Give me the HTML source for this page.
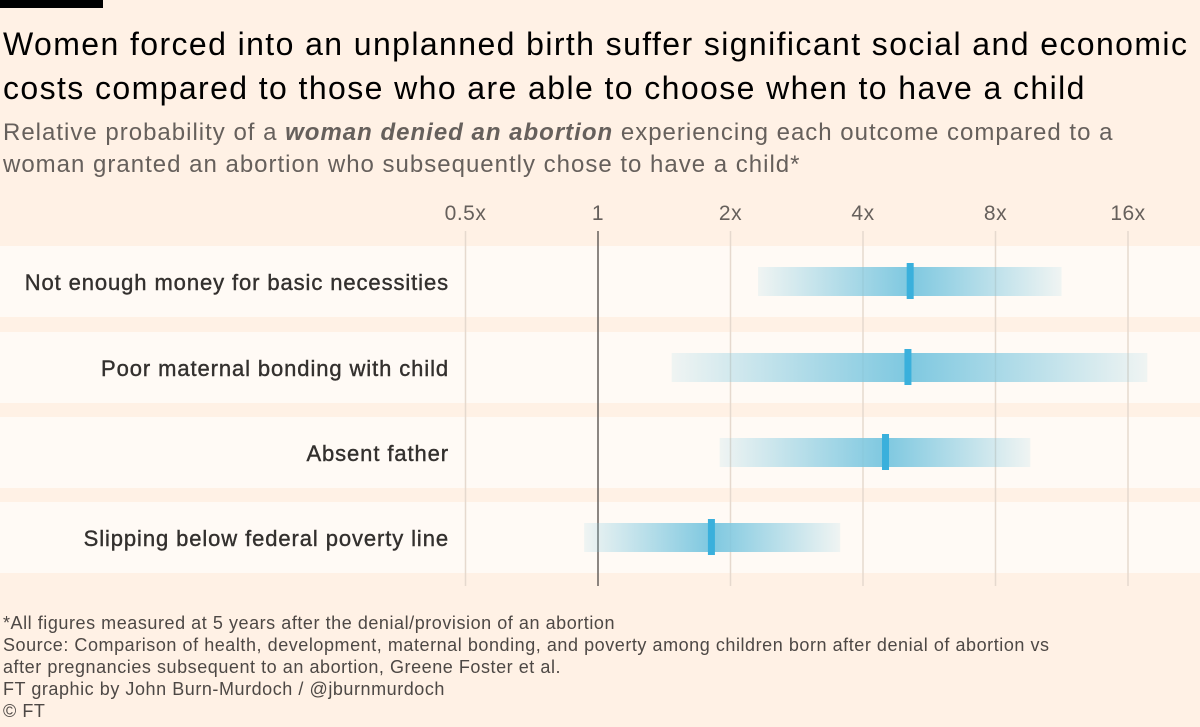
<!DOCTYPE html>
<html><head><meta charset="utf-8"><style>
body{margin:0;width:1200px;height:727px;background:#fff1e5;font-family:"Liberation Sans",sans-serif;overflow:hidden;position:relative}
.t{position:absolute;white-space:nowrap}
</style></head><body>
<div style="position:absolute;left:0;top:0;width:103px;height:8px;background:#000"></div>
<div class="t" style="left:3px;top:22px;font-size:32px;line-height:44px;color:#000;letter-spacing:1.4px">Women forced into an unplanned birth suffer significant social and economic<br>costs compared to those who are able to choose when to have a child</div>
<div class="t" style="left:3px;top:117px;font-size:24px;line-height:32px;color:#66605c;letter-spacing:1px">Relative probability of a <b><i>woman denied an abortion</i></b> experiencing each outcome compared to a<br>woman granted an abortion who subsequently chose to have a child*</div>
<svg id="c" width="1200" height="727" style="position:absolute;left:0;top:0"></svg>
<div class="t" style="left:3px;top:612px;font-size:18px;line-height:22px;color:#4d4845;letter-spacing:0.55px">*All figures measured at 5 years after the denial/provision of an abortion<br>Source: Comparison of health, development, maternal bonding, and poverty among children born after denial of abortion vs<br>after pregnancies subsequent to an abortion, Greene Foster et al.<br>FT graphic by John Burn-Murdoch / @jburnmurdoch<br>© FT</div>
<script>
const categories=["Not enough money for basic necessities","Poor maternal bonding with child","Absent father","Slipping below federal poverty line"];
const lowValues=[2.31,1.47,1.89,0.93];
const highValues=[11.3,17.7,9.6,3.55];
const pointValues=[5.12,5.06,4.5,1.81];
const tickValues=[0.5,1,2,4,8,16];
const tickLabels=["0.5x","1","2x","4x","8x","16x"];
const svg=document.getElementById('c');const NS='http://www.w3.org/2000/svg';
function x(v){return 598+132.5*Math.log2(v);}
const rowTop=[246,332,417,502],rowH=71;
function mk(t,a,p){const e=document.createElementNS(NS,t);for(const k in a)e.setAttribute(k,a[k]);(p||svg).appendChild(e);return e;}
const defs=mk('defs',{});
categories.forEach((c,i)=>{
  const b=mk('rect',{x:0,y:rowTop[i],width:1200,height:rowH,fill:'#fffaf5'});
  
  
});
tickValues.forEach((v,i)=>{
  const l=mk('line',{x1:x(v),x2:x(v),y1:231,y2:586,stroke:v===1?'#66605c':'#e6d9ce','stroke-width':1.5});
  
  
  const t=mk('text',{x:x(v),y:220,'text-anchor':'middle','font-size':21,fill:'#66605c','letter-spacing':0.5});t.textContent=tickLabels[i];
  
  
});
categories.forEach((c,i)=>{
  const cy=rowTop[i]+36;
  const x0=x(lowValues[i]),x1=x(highValues[i]),xp=x(pointValues[i]);
  const off=((xp-x0)/(x1-x0)*100).toFixed(1)+'%';
  const g=mk('linearGradient',{id:'g'+i,x1:0,x2:1,y1:0,y2:0},defs);
  mk('stop',{offset:'0%','stop-color':'#7ec8e0','stop-opacity':0.12},g);
  mk('stop',{offset:off,'stop-color':'#7ec8e0','stop-opacity':1},g);
  mk('stop',{offset:'100%','stop-color':'#7ec8e0','stop-opacity':0.12},g);
  const r=mk('rect',{x:x0,y:cy-15,width:x1-x0,height:29,fill:'url(#g'+i+')'});
  
  
  const p=mk('rect',{x:xp-3.5,y:cy-19,width:7,height:36,fill:'#3ab0dc'});
  
  
  const t=mk('text',{x:449,y:cy+8,'text-anchor':'end','font-size':22,fill:'#33302e','letter-spacing':0.9,stroke:'#33302e','stroke-width':0.4});t.textContent=c;
  
  
});
</script>
</body></html>
